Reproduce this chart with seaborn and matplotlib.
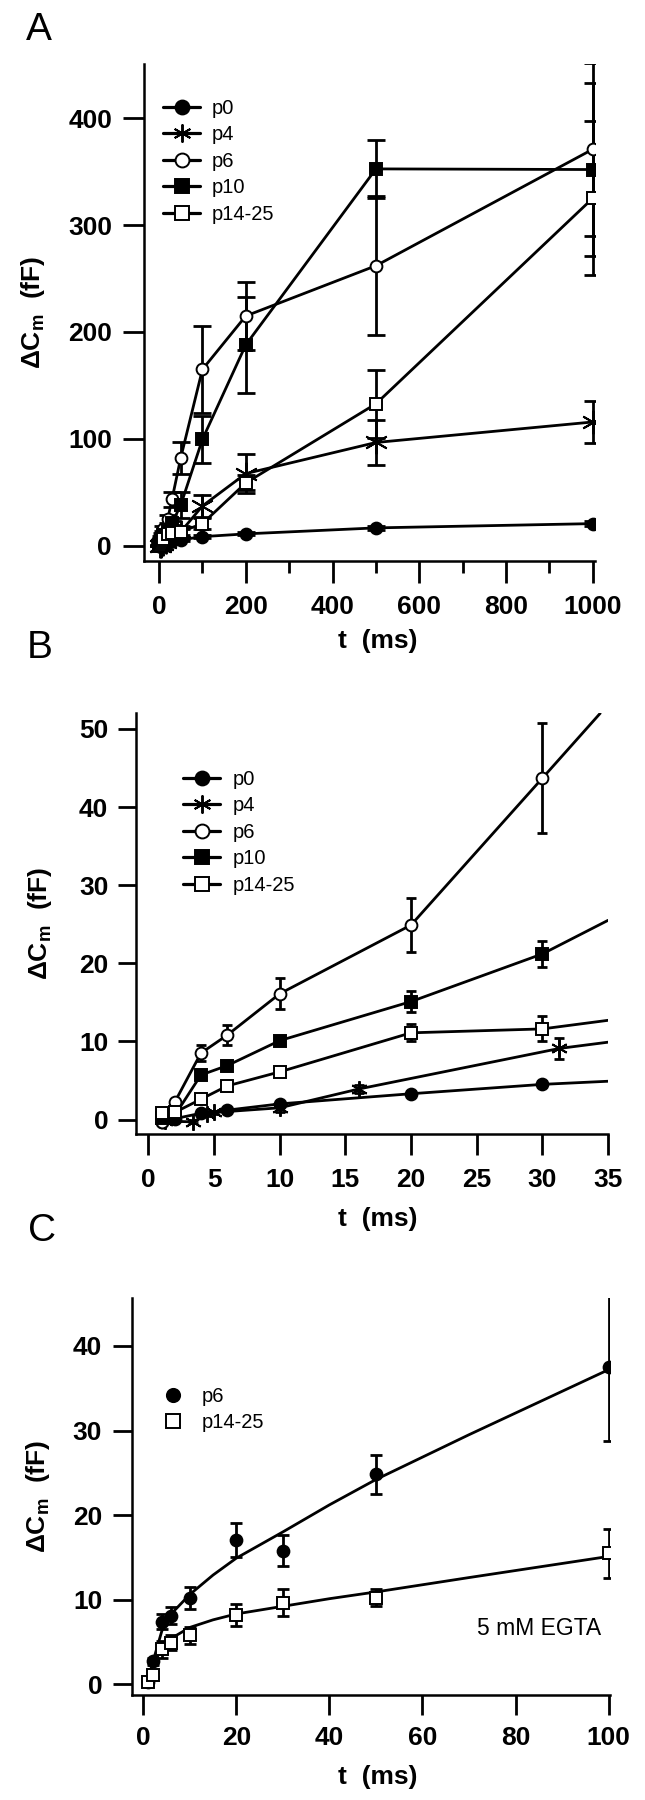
import matplotlib
matplotlib.use("Agg")
import matplotlib.pyplot as plt
import seaborn as sns
from matplotlib.lines import Line2D
from matplotlib.ticker import MultipleLocator

# ---- values ---------------------------------------------------------------
groups = ["p0", "p4", "p6", "p10", "p14-25"]

# pulse durations (ms); the p4 cells were stimulated at slightly different times
t_ms = [1, 2, 4, 6, 10, 20, 30, 50, 100, 200, 500, 1000]
t_p4 = [1.3, 3.4, 4.5, 5, 10, 16, 31.3, 50, 100, 200, 500, 1000]

dcm_p0 = [-0.3, 0.1, 0.8, 1.2, 2.0, 3.3, 4.5, 5.5, 8.5, 11.1, 16.7, 20.7]
dcm_p4 = [-0.2, -0.3, 0.7, 0.9, 1.5, 3.9, 9.1, 13.0, 37.2, 67.5, 96.6, 115.8]
dcm_p6 = [-0.3, 2.2, 8.5, 10.8, 16.1, 24.9, 43.7, 82.2, 165.0, 215.0, 262.0, 371.0]
dcm_p10 = [0.2, 0.5, 5.7, 6.9, 10.1, 15.1, 21.2, 38.0, 99.5, 188.0, 352.6, 352.0]
dcm_p14 = [0.85, 0.9, 2.6, 4.3, 6.1, 11.1, 11.6, 13.0, 20.7, 58.8, 132.8, 325.2]

sem_p0 = [0.2, 0.2, 0.2, 0.2, 0.3, 0.3, 0.4, 1.0, 1.2, 1.5, 2.0, 2.5]
sem_p4 = [0.2, 0.2, 0.2, 0.2, 0.5, 0.5, 1.4, 5.0, 10.0, 18.0, 21.0, 19.5]
sem_p6 = [0.2, 0.4, 1.0, 1.3, 2.0, 3.4, 7.0, 15.0, 41.0, 32.0, 65.0, 81.0]
sem_p10 = [0.2, 0.2, 0.4, 0.4, 0.5, 1.3, 1.7, 12.5, 22.0, 45.0, 27.0, 81.0]
sem_p14 = [0.3, 0.3, 0.3, 0.3, 0.4, 1.1, 1.6, 3.0, 5.0, 7.0, 32.0, 72.0]

# leading points that fall inside the 0-35 ms window of panel B
n_short = 7
# where the panel B curves leave the plot on the right
b_end_t = [35, 35, 34.4, 35, 35]
b_end_dcm = [4.9, 9.9, 52.0, 25.5, 12.7]

# panel C, 5 mM EGTA
c_groups = ["p6", "p14-25"]
c_t = [1, 2, 4, 6, 10, 20, 30, 50, 100]
c_p6 = [0.3, 2.7, 7.4, 8.1, 10.2, 17.0, 15.8, 24.8, 37.5]
c_p6_sem = [0.3, 0.4, 0.9, 1.0, 1.3, 2.0, 1.8, 2.3, 8.7]
c_p14 = [0.2, 1.1, 4.1, 4.9, 5.8, 8.2, 9.6, 10.2, 15.5]
c_p14_sem = [0.2, 0.3, 1.0, 0.9, 1.0, 1.3, 1.6, 1.0, 2.9]
fit_t = [1, 2, 4, 6, 10, 15, 20, 30, 40, 50, 70, 100]
fit_p6 = [0.3, 2.5, 6.3, 8.3, 10.6, 12.9, 14.9, 18.0, 21.2, 24.2, 29.5, 37.2]
fit_p14 = [0.5, 2.2, 4.2, 5.4, 6.7, 7.6, 8.3, 9.2, 10.1, 10.9, 12.6, 15.1]

# ---- style ------------------------------------------------------------------
sns.set_style("ticks")
plt.rcParams.update({
    "font.family": ["Liberation Sans", "DejaVu Sans"],
    "font.weight": "bold",
    "axes.labelweight": "bold",
    "axes.edgecolor": "black",
    "axes.labelcolor": "black",
    "xtick.color": "black",
    "ytick.color": "black",
    "text.color": "black",
    "axes.linewidth": 1.8,
    "mathtext.fontset": "custom",
    "mathtext.rm": "Liberation Sans:bold",
    "mathtext.it": "Liberation Sans:bold",
    "mathtext.bf": "Liberation Sans:bold",
})

markers = ["o", (6, 2, 0), "o", "s", "s"]
faces = ["black", "black", "white", "black", "white"]
times = [t_ms, t_p4, t_ms, t_ms, t_ms]
values = [dcm_p0, dcm_p4, dcm_p6, dcm_p10, dcm_p14]
errors = [sem_p0, sem_p4, sem_p6, sem_p10, sem_p14]

LW = 2.0
MS = 8.5
ylab = "ΔC$_\\mathrm{m}$  (fF)"
xlab = "t  (ms)"
legend_font = {"family": "Liberation Sans", "weight": "normal", "size": 14.5}

fig = plt.figure(figsize=(6.45, 18), dpi=100)
ax_a = fig.add_axes([0.2237, 0.6885, 0.6988, 0.2758])
ax_b = fig.add_axes([0.2109, 0.3698, 0.7318, 0.2339])
ax_c = fig.add_axes([0.2051, 0.0583, 0.7406, 0.2207])


def marker_size(m, big):
    if m == (6, 2, 0):
        return 17 if big else 12
    return MS


def series_handles():
    return [
        Line2D([], [], color="black", linewidth=2.3, marker=m,
               markersize=13 if m == (6, 2, 0) else 10,
               markerfacecolor=fc, markeredgecolor="black", markeredgewidth=1.4)
        for m, fc in zip(markers, faces)
    ]


def style_axis(ax, xlen, ylen, xpad, ypad):
    sns.despine(ax=ax)
    ax.tick_params(axis="x", which="major", length=xlen, width=LW, pad=xpad, labelsize=19)
    ax.tick_params(axis="x", which="minor", length=xlen * 0.53, width=LW)
    ax.tick_params(axis="y", which="major", length=ylen, width=LW, pad=ypad, labelsize=19)


# ---- A: full range ------------------------------------------------------------
for t, v, e in zip(times, values, errors):
    ax_a.errorbar(t, v, yerr=e, fmt="none", ecolor="black", elinewidth=LW,
                  capsize=6.5, capthick=LW)
for t, v, m, fc in zip(times, values, markers, faces):
    sns.lineplot(x=t, y=v, ax=ax_a, color="black", linewidth=LW, marker=m,
                 markersize=marker_size(m, True), markerfacecolor=fc,
                 markeredgecolor="black", markeredgewidth=1.4,
                 estimator=None, legend=False)
ax_a.set_xlim(-34, 1005)
ax_a.set_ylim(-14, 450.5)
ax_a.xaxis.set_major_locator(MultipleLocator(200))
ax_a.xaxis.set_minor_locator(MultipleLocator(100))
ax_a.yaxis.set_major_locator(MultipleLocator(100))
style_axis(ax_a, 15.8, 14.8, 9.0, 8.4)
ax_a.legend(series_handles(), groups, loc="upper left",
            bbox_to_anchor=(163 / 645, 1 - 99 / 1800), bbox_transform=fig.transFigure,
            frameon=False, borderpad=0, borderaxespad=0, handlelength=1.84,
            handletextpad=0.58, labelspacing=0.37, prop=legend_font)

# ---- B: first 35 ms -----------------------------------------------------------
for t, v, e in zip(times, values, errors):
    ax_b.errorbar(t[:n_short], v[:n_short], yerr=e[:n_short], fmt="none",
                  ecolor="black", elinewidth=LW, capsize=3.8, capthick=LW)
for t, v, te, ve in zip(times, values, b_end_t, b_end_dcm):
    sns.lineplot(x=t[:n_short] + [te], y=v[:n_short] + [ve], ax=ax_b,
                 color="black", linewidth=LW, estimator=None, legend=False)
for t, v, m, fc in zip(times, values, markers, faces):
    sns.lineplot(x=t[:n_short], y=v[:n_short], ax=ax_b, color="black",
                 linestyle="none", marker=m, markersize=marker_size(m, False),
                 markerfacecolor=fc, markeredgecolor="black", markeredgewidth=1.4,
                 estimator=None, legend=False)
ax_b.set_xlim(-0.94, 35)
ax_b.set_ylim(-1.9, 52)
ax_b.xaxis.set_major_locator(MultipleLocator(5))
ax_b.yaxis.set_major_locator(MultipleLocator(10))
style_axis(ax_b, 15, 13, 9.0, 7)
ax_b.legend(series_handles(), groups, loc="upper left",
            bbox_to_anchor=(183 / 645, 1 - 770 / 1800), bbox_transform=fig.transFigure,
            frameon=False, borderpad=0, borderaxespad=0, handlelength=1.84,
            handletextpad=0.62, labelspacing=0.37, prop=legend_font)

# ---- C: 5 mM EGTA ---------------------------------------------------------------
c_vals = [c_p6, c_p14]
c_errs = [c_p6_sem, c_p14_sem]
c_fits = [fit_p6, fit_p14]
c_markers = ["o", "s"]
c_faces = ["black", "white"]
for v, e in zip(c_vals, c_errs):
    ax_c.errorbar(c_t, v, yerr=e, fmt="none", ecolor="black", elinewidth=LW,
                  capsize=4.5, capthick=LW)
for f in c_fits:
    sns.lineplot(x=fit_t, y=f, ax=ax_c, color="black", linewidth=LW,
                 estimator=None, legend=False)
for v, m, fc in zip(c_vals, c_markers, c_faces):
    sns.lineplot(x=c_t, y=v, ax=ax_c, color="black", linestyle="none", marker=m,
                 markersize=MS, markerfacecolor=fc, markeredgecolor="black",
                 markeredgewidth=1.4, estimator=None, legend=False)
ax_c.set_xlim(-2.36, 100.3)
ax_c.set_ylim(-1.3, 45.7)
ax_c.xaxis.set_major_locator(MultipleLocator(20))
ax_c.yaxis.set_major_locator(MultipleLocator(10))
style_axis(ax_c, 14.4, 13.7, 8.2, 8)
c_handles = [
    Line2D([], [], linestyle="none", marker=m, markersize=9.5, markerfacecolor=fc,
           markeredgecolor="black", markeredgewidth=1.4)
    for m, fc in zip(c_markers, c_faces)
]
ax_c.legend(c_handles, c_groups, loc="upper left",
            bbox_to_anchor=(154.2 / 645, 1 - 1387 / 1800), bbox_transform=fig.transFigure,
            frameon=False, borderpad=0, borderaxespad=0, handlelength=1.84,
            handletextpad=0.52, labelspacing=0.37, prop=legend_font)
ax_c.text(98.5, 5.8, "5 mM EGTA", ha="right", va="baseline", fontsize=16.5,
          fontweight="normal")

# ---- axis labels and panel letters ----------------------------------------------
for ax, xl, yl in [(ax_a, (0.5185, -0.1376), -0.2148),
                   (ax_b, (0.5127, -0.1727), -0.1748),
                   (ax_c, (0.5143, -0.1762), -0.168)]:
    ax.set_xlabel(xlab, fontsize=19)
    ax.set_ylabel(ylab, fontsize=19)
    ax.xaxis.set_label_coords(*xl)
    ax.yaxis.set_label_coords(yl, 0.5)

for letter, x, y in [("A", 26, 40), ("B", 27, 658), ("C", 28, 1241)]:
    fig.text(x / 645, 1 - y / 1800, letter, fontsize=28, fontweight="normal",
             ha="left", va="baseline")

fig.savefig("out.png", dpi=100)
